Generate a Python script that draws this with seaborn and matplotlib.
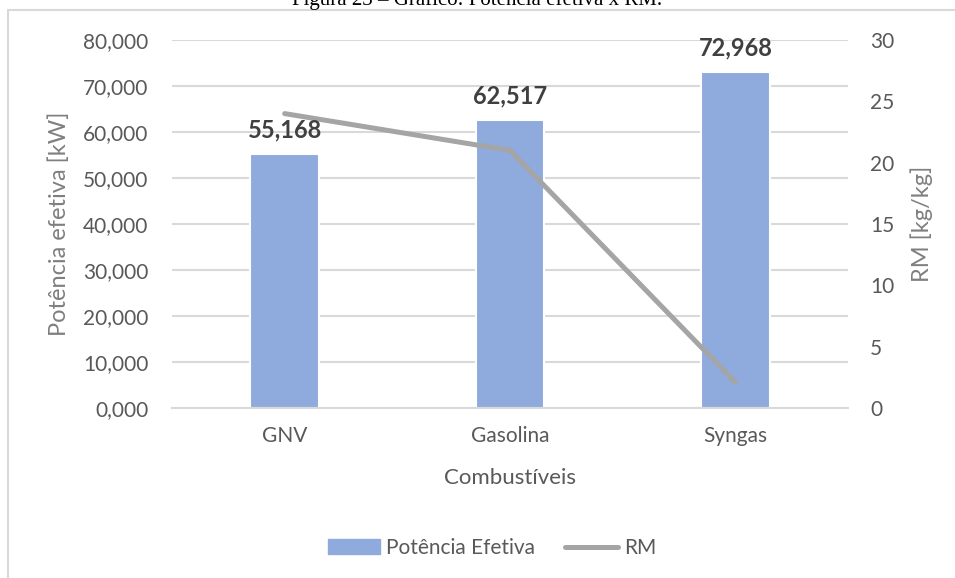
import matplotlib
matplotlib.use("Agg")
import matplotlib.pyplot as plt
import matplotlib.patches as mpatches
from matplotlib.lines import Line2D
from matplotlib.ticker import FixedLocator, FuncFormatter
import seaborn as sns

# ---- data ----
categories = ["GNV", "Gasolina", "Syngas"]
potencia = [55.168, 62.517, 72.968]
rm = [24.0, 21.0, 2.1]
left_ticks = [0, 10, 20, 30, 40, 50, 60, 70, 80]
right_ticks = [0, 5, 10, 15, 20, 25, 30]

sns.set_theme(style="white")
plt.rcParams['font.family'] = ['Lato', 'DejaVu Sans']

BAR = "#8faadc"
LINE = "#a5a5a5"
GRID = "#d9d9d9"
TXT = "#595959"

W, H = 955, 578
fig = plt.figure(figsize=(W / 100, H / 100), dpi=100)
fig.patch.set_facecolor("white")

l, r, t, b = 172, 848, 40, 408
ax = fig.add_axes([l / W, 1 - b / H, (r - l) / W, (b - t) / H])

sns.barplot(x=categories, y=potencia, color=BAR, saturation=1, width=0.306,
            edgecolor="white", linewidth=1.5, ax=ax, zorder=2)
ax.set_ylim(0, 80)
ax.yaxis.set_major_locator(FixedLocator(left_ticks))
ax.yaxis.set_major_formatter(FuncFormatter(lambda v, p: f"{v:.3f}".replace(".", ",")))
ax.yaxis.grid(True, color=GRID, lw=1.5, zorder=0)
ax.set_axisbelow(True)
for s in ["top", "left", "right"]:
    ax.spines[s].set_visible(False)
ax.spines["bottom"].set_color(GRID)
ax.spines["bottom"].set_linewidth(1.5)
ax.tick_params(axis="y", length=0, pad=17, labelsize=15, labelcolor=TXT)
ax.tick_params(axis="x", length=0, pad=13, labelsize=15, labelcolor=TXT)

ax.set_xlabel("Combustíveis", fontsize=16, color=TXT, va="center")
ax.xaxis.set_label_coords(0.5, (b - 478) / (b - t))
ax.set_ylabel("Potência efetiva [kW]", fontsize=17, color="#7f7f7f", va="center")
ax.yaxis.set_label_coords((59 - l) / (r - l), 0.5)

ax2 = ax.twinx()
sns.lineplot(x=list(range(len(categories))), y=rm, ax=ax2, color=LINE,
             linewidth=3.6, solid_joinstyle="miter", legend=False)
ax2.set_ylim(0, 30)
ax2.yaxis.set_major_locator(FixedLocator(right_ticks))
for s in ["top", "left", "right", "bottom"]:
    ax2.spines[s].set_visible(False)
ax2.tick_params(axis="y", length=0, pad=16, labelsize=15, labelcolor=TXT)
ax2.set_ylabel("RM [kg/kg]", fontsize=17, color="#7f7f7f", va="center", rotation=90)
ax2.yaxis.set_label_coords((922 - l) / (r - l), 0.5)
ax2.grid(False)
ax.set_xlim(-0.5, len(categories) - 0.5)

for i, v in enumerate(potencia):
    ax2.annotate(f"{v:.3f}".replace(".", ","), xy=(i, v), xycoords=ax.transData,
                 xytext=(0, 9), textcoords="offset points", ha="center", va="bottom",
                 fontsize=17, fontweight="bold", color="#404040")

handles = [mpatches.Patch(color=BAR, label="Potência Efetiva"),
           Line2D([0], [0], color=LINE, lw=3.6, label="RM")]
fig.legend(handles=handles, loc="center", bbox_to_anchor=(492 / W, 1 - 548 / H),
           ncol=2, frameon=False, fontsize=15, handlelength=2.5, handletextpad=0.3,
           columnspacing=1.45, labelcolor=TXT)

# chart frame & caption cut at the top edge (as in the reference)
fig.patches.append(mpatches.Rectangle((8 / W, -0.1), 1.2, (1 - 10 / H) + 0.1, fill=False,
                                      edgecolor=GRID, lw=1.5, transform=fig.transFigure))
fig.text(477 / W, 1 - 5 / H, "Figura 23 – Gráfico: Potência efetiva x RM.",
         family=["Liberation Serif", "DejaVu Serif"], fontsize=15, ha="center",
         va="baseline", color="black")

fig.savefig("out.png", dpi=100, facecolor="white")
